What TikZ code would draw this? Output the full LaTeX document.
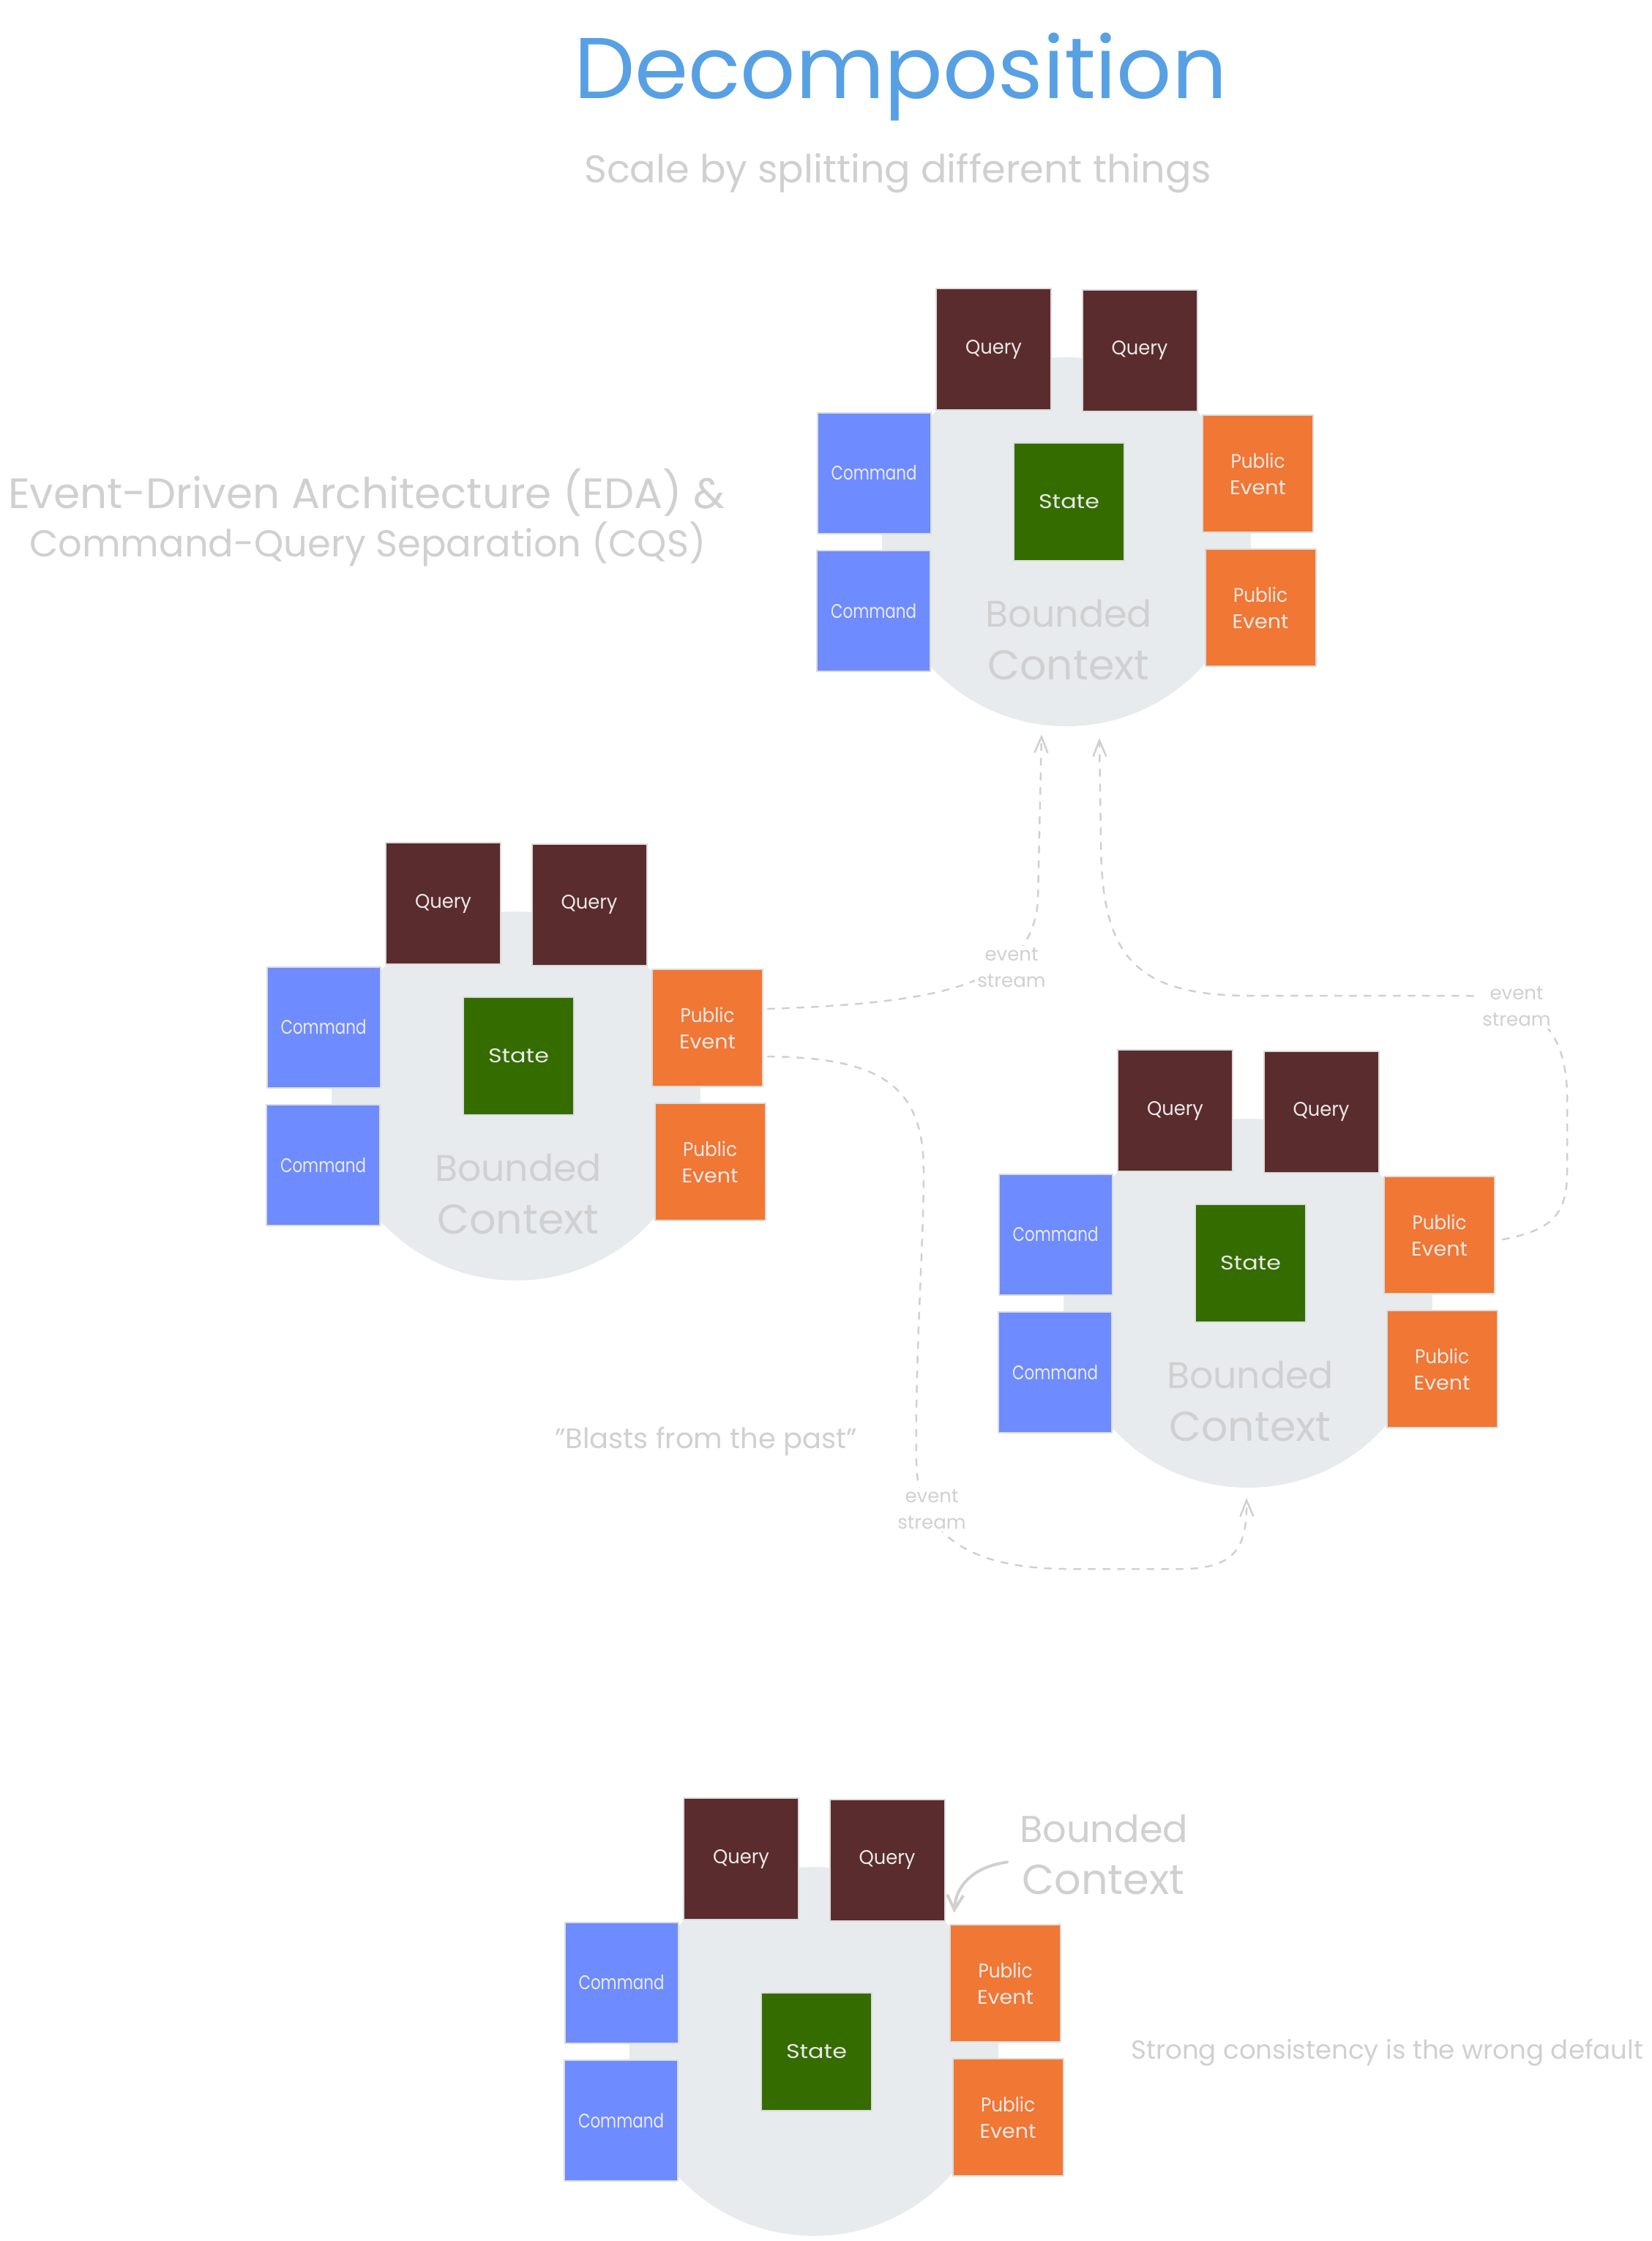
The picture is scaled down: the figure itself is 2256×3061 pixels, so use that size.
\documentclass[tikz,border=0pt]{standalone}
\usepackage{fontspec}
\setmainfont{Poppins}
\usetikzlibrary{arrows.meta,calc}
\definecolor{qcol}{HTML}{5B2C2D}
\definecolor{ccol}{HTML}{6E8BFF}
\definecolor{scol}{HTML}{356C00}
\definecolor{ecol}{HTML}{F07734}
\definecolor{bcol}{HTML}{E7EBEE}
\definecolor{txtgrey}{HTML}{D0D0D0}
\definecolor{boxtxt}{HTML}{EAEAEA}
\definecolor{boxedge}{HTML}{DCDCDC}
\definecolor{titleblue}{HTML}{58A0E4}
\tikzset{
  card/.style={draw=boxedge, line width=2pt, inner sep=0pt, text=boxtxt,
    font=\fontsize{27}{36}\selectfont, align=center},
  querybox/.style={card, fill=qcol, minimum width=157pt, minimum height=166pt},
  cmdbox/.style={card, fill=ccol, minimum width=155pt, minimum height=165pt},
  statebox/.style={card, fill=scol, minimum width=151pt, minimum height=161pt},
  evbox/.style={card, fill=ecol, minimum width=151pt, minimum height=160pt},
  greytext/.style={text=txtgrey, inner sep=0pt},
  streamlabel/.style={text=txtgrey, fill=white, inner sep=3pt, align=center,
    font=\fontsize{26}{36}\selectfont},
  stream/.style={draw=txtgrey, line width=2.5pt, line cap=round,
    dash pattern=on 9pt off 11pt, -{Straight Barb[length=22pt,width=18pt]}},
  pointer/.style={draw=txtgrey, line width=4pt, line cap=round,
    -{Straight Barb[length=20pt,width=22pt]}}
}
\newcommand\fitw[2]{\resizebox{#1pt}{!}{#2}}
\newcommand\fitx[2]{\resizebox{#1pt}{\height}{#2}}
\newcommand\bcluster[4]{%
  \begin{scope}[shift={(#2,#3)}]
    \fill[bcol] (0,0) circle (252pt);
    \coordinate (#1bot) at (0,252);
    \node[querybox] (#1q1) at (-99.5,-263) {\fitx{77}{Query}};
    \node[querybox] (#1q2) at (100,-261.5) {\fitx{77}{Query}};
    \node[cmdbox] (#1c1) at (-263,-94) {\fitx{117}{Command}};
    \node[cmdbox] (#1c2) at (-263.5,94.5) {\fitx{117}{Command}};
    \node[statebox] (#1s) at (3.5,#4) {\fitx{83}{State}};
    \node[evbox] (#1e1) at (261.5,-93) {\fitx{74}{Public}\\\fitx{77}{Event}};
    \node[evbox] (#1e2) at (265,90) {\fitx{74}{Public}\\\fitx{77}{Event}};
  \end{scope}}
\newcommand\innerlabel[3]{%
  \node[greytext, anchor=base] (#1lb) at ($(#2,#3)+(3,116)$) {\fitw{228}{Bounded}};
  \node[greytext, anchor=base] (#1lc) at ($(#2,#3)+(3,188)$) {\fitw{221}{Context}};}
\begin{document}
\begin{tikzpicture}[x=1pt,y=-1pt]
\useasboundingbox (0,0) rectangle (2256,3061);
\fill[white] (0,0) rectangle (2256,3061);

% titles
\node[anchor=base west, inner sep=0pt, text=titleblue] (title) at (784,135)
  {\fitw{892}{Decomposition}};
\node[anchor=base west, greytext] (subtitle) at (798,250)
  {\fitw{857}{Scale by splitting different things}};
\node[anchor=base west, greytext] (eda1) at (11,694)
  {\fitw{979}{Event-Driven Architecture (EDA) \&}};
\node[anchor=base west, greytext] (eda2) at (40,760)
  {\fitw{924}{Command-Query Separation (CQS)}};
\node[anchor=base west, greytext] (blasts) at (758,1978)
  {\fitw{413}{"Blasts from the past"}};
\node[anchor=base west, greytext] (strong) at (1545,2812)
  {\fitw{700}{Strong consistency is the wrong default}};

% clusters
\bcluster{t}{1457}{740}{-54.5}
\innerlabel{t}{1457}{740}
\bcluster{l}{705}{1497}{-54.5}
\innerlabel{l}{705}{1497}
\bcluster{r}{1705}{1780}{-54.5}
\innerlabel{r}{1705}{1780}
\bcluster{b}{1112}{2802}{0.5}

% bottom external label
\node[anchor=base west, greytext] (bbl) at (1393,2516) {\fitw{230}{Bounded}};
\node[anchor=base west, greytext] (bbc) at (1396,2587) {\fitw{222}{Context}};
\draw[pointer] ($(bbc.north west)+(-20,-3)$) .. controls (1330,2550) and (1306,2575) .. ($(bq2.south east)+(12,-12)$);

% event streams
\draw[stream] ($(le1.east)+(6,-26)$) .. controls (1300,1370) and (1410,1340) .. (1418,1230)
  -- ($(tbot)+(-34,11)$);
\node[streamlabel] (sa) at (1382,1322) {event\\stream};

\draw[stream] ($(re1.east)+(10,6)$) .. controls (2120,1680) and (2141,1660) .. (2141,1600)
  -- (2141,1500) .. controls (2141,1420) and (2110,1362) .. (2000,1360)
  -- (1700,1360) .. controls (1545,1358) and (1505,1300) .. (1504,1150)
  -- ($(tbot)+(45,16)$);
\node[streamlabel] (sb) at (2072,1375) {event\\stream};

\draw[stream] ($(le1.east)+(6,39)$) .. controls (1200,1445) and (1262,1480) .. (1262,1600)
  .. controls (1262,1700) and (1250,1850) .. (1252,2000)
  .. controls (1255,2100) and (1330,2143) .. (1460,2143) -- (1620,2143)
  .. controls (1690,2141) and (1704,2110) .. ($(rbot)+(-2,14)$);
\node[streamlabel] (sc) at (1273,2062) {event\\stream};
\end{tikzpicture}
\end{document}
